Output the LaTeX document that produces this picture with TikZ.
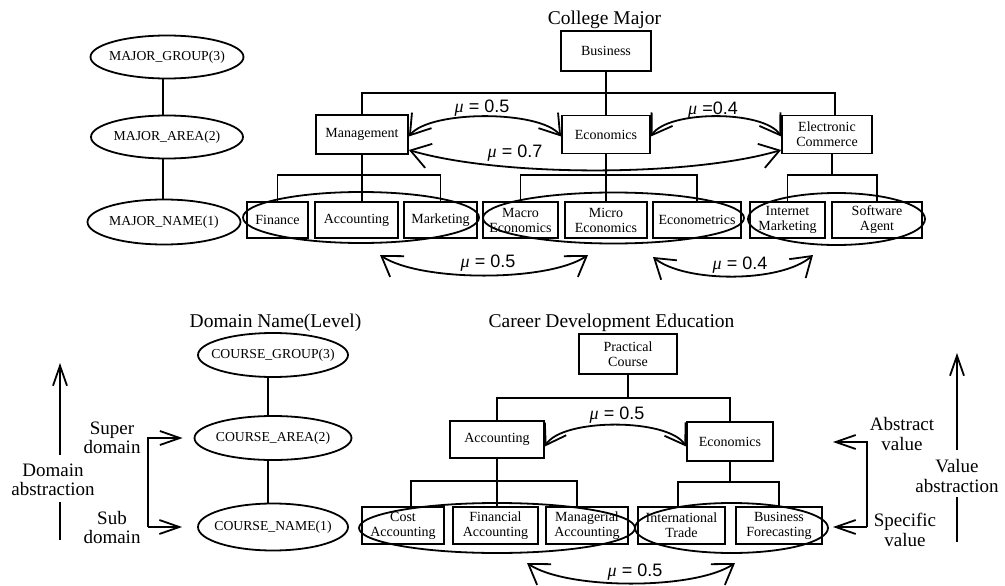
\documentclass[tikz,border=0pt]{standalone}
\usepackage{fontspec}
\setmainfont{Liberation Serif}
\newfontfamily\arialf{Liberation Sans}
\usetikzlibrary{shapes.geometric,arrows.meta,calc}
\begin{document}
\begin{tikzpicture}[x=1pt,y=-1pt, line width=1.8pt,
 wh/.style 2 args={minimum width=#1pt, minimum height=#2pt},
 box/.style={draw, rectangle, inner sep=0pt, align=center, font=\fontsize{14}{15}\selectfont},
 oval/.style={draw, ellipse, inner sep=0pt, font=\fontsize{13.7}{15}\selectfont},
 group/.style={draw, ellipse, inner sep=0pt},
 title/.style={font=\fontsize{19.5}{21}\selectfont, anchor=base, inner sep=0pt},
 side/.style={font=\fontsize{19}{19.5}\selectfont, align=center, inner sep=0pt},
 mu/.style={font=\arialf\fontsize{18}{19}\selectfont, inner sep=0pt},
 bar/.style={-{Straight Barb[length=20pt,width=14pt]}},
 dbl/.style={{Straight Barb[length=19pt,width=25pt]}-{Straight Barb[length=19pt,width=25pt]}},
]
\useasboundingbox (0,0) rectangle (1005,586);

% ---------- top: College Major ----------
\node[title] (tcm) at (604.5,25) {College Major};
\node[box, wh={90}{40}] (bus) at (606,51) {Business};
\node[box, wh={92}{39}] (mgmt) at (362,134.5) {Management};
\node[box, wh={88}{38}] (econ) at (606,134.5) {Economics};
\node[box, wh={90}{38}] (ec) at (827,134.5) {Electronic\\Commerce};

\node[box, wh={61}{36}] (fin) at (277.5,220) {Finance};
\node[box, wh={83}{36}] (acc) at (356.5,220) {Accounting};
\node[box, wh={73}{36}] (mkt) at (440.5,220) {Marketing};
\node[box, wh={75}{36}] (mac) at (520.5,220) {Macro\\Economics};
\node[box, wh={82}{36}] (mic) at (606,220) {Micro\\Economics};
\node[box, wh={88}{36}] (ectr) at (697,220) {Econometrics};
\node[box, wh={75}{36}] (inm) at (787.5,220) {Internet\\Marketing};
\node[box, wh={90}{36}] (swa) at (877,220) {Software\\Agent};

\node[group, wh={236}{51}] (g1) at (361,217.5) {};
\node[group, wh={261}{51}] (g2) at (613.5,218) {};
\node[group, wh={177}{52}] (g3) at (836.5,219) {};

\coordinate (j1) at (606,93);
\draw (bus) -- (econ);
\draw (mgmt.north) |- (j1) -| ([xshift=8pt]ec.north);
\coordinate (j2) at (362,175);
\draw (mgmt.south) -- (acc.north -| mgmt.south);
\draw (fin.north) |- (j2) -| (mkt.north);
\coordinate (j3) at (606,175);
\draw (econ.south) -- (mic.north);
\draw (mac.north) |- (j3) -| (ectr.north);
\coordinate (j4) at (832,175);
\draw (ec.south -| j4) -- (j4);
\draw (inm.north) |- (j4) -| (swa.north);

\draw[dbl] ([yshift=-2pt]mgmt.east) .. controls (430,110) and (540,110) .. ([yshift=-2pt]econ.west);
\draw[dbl] ([yshift=-2pt]econ.east) .. controls (668,110) and (764,110) .. ([yshift=-2pt]ec.west);
\draw[dbl] ([yshift=-15.5pt]mgmt.east) .. controls (500,177) and (690,177) .. ([yshift=-15.5pt]ec.west);
\node[mu] (m1) at (482,108) {{\rmfamily\itshape μ} = 0.5};
\node[mu] (m2) at (713,110) {{\rmfamily\itshape μ} =0.4};
\node[mu] (m3) at (515,153) {{\rmfamily\itshape μ} = 0.7};

\coordinate (p1) at (380,255); \coordinate (p2) at (588,255);
\draw[dbl] (p1) .. controls (420,282) and (548,282) .. (p2);
\node[mu] (m4) at (488,263) {{\rmfamily\itshape μ} = 0.5};
\coordinate (p3) at (653,257); \coordinate (p4) at (813,255);
\draw[dbl] (p3) .. controls (685,283) and (781,283) .. (p4);
\node[mu] (m5) at (740,265) {{\rmfamily\itshape μ} = 0.4};

% ---------- left: MAJOR levels ----------
\node[oval, wh={153}{43}] (mg) at (167,57) {\makebox[0pt]{MAJOR\_GROUP(3)}};
\node[oval, wh={152}{43}] (ma) at (167,137) {\makebox[0pt]{MAJOR\_AREA(2)}};
\node[oval, wh={153}{45}] (mn) at (164,222) {\makebox[0pt]{MAJOR\_NAME(1)}};
\draw ([xshift=-4pt]mg.south) -- ([xshift=-4pt]ma.north);
\draw ([xshift=-4pt]ma.south) -- ([xshift=-1pt]mn.north);

% ---------- bottom: Career Development Education ----------
\node[title] (tcd) at (611.5,327) {Career Development Education};
\node[box, wh={98}{40}] (prac) at (628,354) {Practical\\Course};
\node[box, wh={94}{37}] (acc2) at (497,439.5) {Accounting};
\node[box, wh={86}{39}] (eco2) at (730,441.5) {Economics};
\node[box, wh={82}{37}] (cost) at (403,525.5) {Cost\\Accounting};
\node[box, wh={85}{37}] (fin2) at (495.5,525.5) {Financial\\Accounting};
\node[box, wh={82}{37}] (mgr) at (587,525.5) {Managerial\\Accounting};
\node[box, wh={87}{37}] (intl) at (681.5,525.5) {International\\Trade};
\node[box, wh={86}{37}] (busf) at (779,525.5) {Business\\Forecasting};

\node[group, wh={276}{50}] (g4) at (497,528) {};
\node[group, wh={193}{50}] (g5) at (731.5,528) {};

\coordinate (k1) at (628,398);
\draw (prac) -- (k1);
\draw (acc2.north) |- (k1) -| (eco2.north);
\coordinate (k2) at (497,481);
\draw (acc2.south) -- (acc2.south |- fin2.north);
\draw ([xshift=8pt]cost.north) |- (k2) -| ([xshift=-10pt]mgr.north);
\coordinate (k3) at (730,482);
\draw (eco2.south) -- (k3);
\draw ([xshift=-3.5pt]intl.north) |- (k3) -| (busf.north);

\draw[dbl] ([yshift=-7pt]acc2.east) .. controls (562,418) and (668,418) .. ([yshift=-5pt]eco2.west);
\node[mu] (m6) at (617,415) {{\rmfamily\itshape μ} = 0.5};
\coordinate (q1) at (527,563); \coordinate (q2) at (735,563);
\draw[dbl] (q1) .. controls (567,590) and (695,590) .. (q2);
\node[mu] (m7) at (635,572) {{\rmfamily\itshape μ} = 0.5};

% ---------- left: COURSE levels ----------
\node[title] (tdn) at (275.5,327.3) {Domain Name(Level)};
\node[oval, wh={150}{44}] (cg) at (273,355) {\makebox[0pt]{COURSE\_GROUP(3)}};
\node[oval, wh={157}{44}] (ca) at (273,438) {\makebox[0pt]{COURSE\_AREA(2)}};
\node[oval, wh={150}{47}] (cn) at (273,527) {\makebox[0pt]{COURSE\_NAME(1)}};
\draw ([xshift=-5pt]cg.south) -- ([xshift=-5pt]ca.north);
\draw ([xshift=-5pt]ca.south) -- ([xshift=-5pt]cn.north);

\node[side] (sup) at (112,438) {Super\\domain};
\node[side] (sub) at (112,527.5) {Sub\\domain};
\coordinate (s1) at (148,438); \coordinate (s2) at (148,527);
\draw[bar] (s2) -- (s1) -- ([xshift=-11pt]ca.west);
\draw[bar] (s2) -- ([xshift=-15pt]cn.west);

\node[side] (da) at (53,480) {Domain\\abstraction};
\coordinate (d0) at (60,455); \coordinate (d1) at (60,363);
\coordinate (d2) at (60,502); \coordinate (d3) at (60,540);
\draw[bar] (d0) -- (d1);
\draw (d2) -- (d3);

% ---------- right: value abstraction ----------
\node[side] (av) at (902,434) {Abstract\\value};
\node[side] (sv) at (905,530) {Specific\\value};
\coordinate (r1) at (867,442); \coordinate (r2) at (867,527);
\coordinate (r1t) at (833,442); \coordinate (r2t) at (833,527);
\draw[bar] (r2) -- (r1) -- (r1t);
\draw[bar] (r2) -- (r2t);

\node[side] (va) at (957,476) {Value\\abstraction};
\coordinate (v0) at (957,450); \coordinate (v1) at (957,353);
\coordinate (v2) at (957,497); \coordinate (v3) at (957,542);
\draw[bar] (v0) -- (v1);
\draw (v2) -- (v3);
\end{tikzpicture}
\end{document}
